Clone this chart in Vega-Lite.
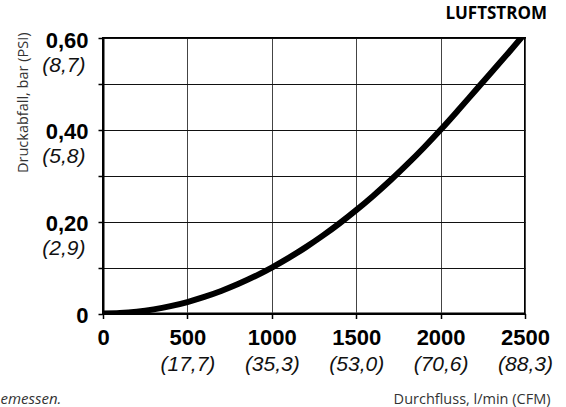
{
  "$schema": "https://vega.github.io/schema/vega-lite/v6.json",
  "width": 422,
  "height": 275.5,
  "autosize": {"type": "none"},
  "padding": {"left": 103, "top": 38, "right": 41, "bottom": 93.5},
  "background": "white",
  "title": {
    "text": "LUFTSTROM",
    "anchor": "end",
    "frame": "group",
    "font": "Open Sans",
    "fontSize": 17,
    "fontWeight": "bold",
    "color": "#000",
    "dx": 22,
    "offset": 6
  },
  "data": {
    "values": [
      {"flow": 0, "dp": 0},
      {"flow": 100, "dp": 0.001},
      {"flow": 200, "dp": 0.004},
      {"flow": 300, "dp": 0.009},
      {"flow": 400, "dp": 0.016},
      {"flow": 500, "dp": 0.025},
      {"flow": 600, "dp": 0.036},
      {"flow": 700, "dp": 0.049},
      {"flow": 800, "dp": 0.064},
      {"flow": 900, "dp": 0.081},
      {"flow": 1000, "dp": 0.1},
      {"flow": 1100, "dp": 0.121},
      {"flow": 1200, "dp": 0.144},
      {"flow": 1300, "dp": 0.169},
      {"flow": 1400, "dp": 0.196},
      {"flow": 1500, "dp": 0.225},
      {"flow": 1600, "dp": 0.256},
      {"flow": 1700, "dp": 0.289},
      {"flow": 1800, "dp": 0.324},
      {"flow": 1900, "dp": 0.361},
      {"flow": 2000, "dp": 0.4},
      {"flow": 2100, "dp": 0.441},
      {"flow": 2200, "dp": 0.483},
      {"flow": 2300, "dp": 0.525},
      {"flow": 2400, "dp": 0.567},
      {"flow": 2500, "dp": 0.61}
    ]
  },
  "layer": [
    {
      "mark": {"type": "line", "stroke": "#000", "strokeWidth": 6, "clip": true, "strokeCap": "butt", "interpolate": "monotone"},
      "encoding": {
        "x": {
          "field": "flow", "type": "quantitative",
          "scale": {"domain": [0, 2500], "nice": false, "zero": true},
          "axis": {
            "values": [0, 500, 1000, 1500, 2000, 2500],
            "labelExpr": "format(datum.value, 'd')",
            "labelFont": "Liberation Sans",
            "labelFontSize": 22,
            "labelFontWeight": "bold",
            "labelColor": "#000",
            "labelPadding": 9,
            "labelOverlap": false,
            "labelBound": false,
            "labelFlush": false,
            "tickSize": 5,
            "tickWidth": 1.5,
            "tickColor": "#000",
            "domainColor": "#000",
            "domainWidth": 2,
            "grid": true,
            "gridColor": "#444",
            "gridWidth": 1,
            "gridOpacity": 1,
            "title": "Durchfluss, l/min (CFM)",
            "titleFont": "Open Sans",
            "titleFontSize": 14.5,
            "titleFontWeight": "normal",
            "titleColor": "#333",
            "titleAnchor": "end",
            "titleAlign": "right",
            "titleBaseline": "alphabetic",
            "titleX": 447,
            "titleY": 89.5
          }
        },
        "y": {
          "field": "dp", "type": "quantitative",
          "scale": {"domain": [0, 0.6], "nice": false, "zero": true},
          "axis": {
            "values": [0, 0.1, 0.2, 0.3, 0.4, 0.5, 0.6],
            "labelExpr": "round(datum.value * 10) % 2 == 0 ? (datum.value == 0 ? '0' : replace(format(datum.value, '.2f'), '.', ',')) : ''",
            "labelFont": "Liberation Sans",
            "labelFontSize": 22,
            "labelFontWeight": "bold",
            "labelColor": "#000",
            "labelPadding": 10,
            "labelOffset": 2,
            "labelBaseline": "middle",
            "labelOverlap": false,
            "labelBound": false,
            "labelFlush": false,
            "tickSize": 5,
            "tickWidth": 1.5,
            "tickColor": "#000",
            "domainColor": "#000",
            "domainWidth": 2,
            "grid": true,
            "gridColor": "#111",
            "gridWidth": 1,
            "gridOpacity": 1,
            "title": "Druckabfall, bar (PSI)",
            "titleFont": "Open Sans",
            "titleFontSize": 14.5,
            "titleFontWeight": "normal",
            "titleColor": "#333",
            "titleAnchor": "end",
            "titleAngle": -90,
            "titleAlign": "right",
            "titleBaseline": "bottom",
            "titleX": -73,
            "titleY": -6
          }
        }
      }
    },
    {
      "mark": {"type": "line", "strokeOpacity": 0, "clip": true},
      "encoding": {
        "x": {
          "field": "flow", "type": "quantitative",
          "scale": {"domain": [0, 2500], "nice": false, "zero": true},
          "axis": {
            "orient": "bottom",
            "values": [500, 1000, 1500, 2000, 2500],
            "labelExpr": "datum.value == 500 ? '(17,7)' : datum.value == 1000 ? '(35,3)' : datum.value == 1500 ? '(53,0)' : datum.value == 2000 ? '(70,6)' : '(88,3)'",
            "labelFont": "Liberation Sans",
            "labelFontSize": 21,
            "labelFontStyle": "italic",
            "labelFontWeight": "normal",
            "labelColor": "#111",
            "labelPadding": 40,
            "labelOverlap": false,
            "labelBound": false,
            "labelFlush": false,
            "ticks": false,
            "tickSize": 0,
            "domain": false,
            "grid": false,
            "title": "emessen.",
            "titleFont": "Open Sans",
            "titleFontSize": 15,
            "titleFontStyle": "italic",
            "titleFontWeight": "normal",
            "titleColor": "#333",
            "titleAnchor": "start",
            "titleAlign": "left",
            "titleBaseline": "alphabetic",
            "titleX": -103,
            "titleY": 89.5
          }
        },
        "y": {
          "field": "dp", "type": "quantitative",
          "scale": {"domain": [0, 0.6], "nice": false, "zero": true},
          "axis": {
            "orient": "left",
            "values": [0.2, 0.4, 0.6],
            "labelExpr": "round(datum.value * 10) == 2 ? '(2,9)' : round(datum.value * 10) == 4 ? '(5,8)' : '(8,7)'",
            "labelFont": "Liberation Sans",
            "labelFontSize": 21,
            "labelFontStyle": "italic",
            "labelFontWeight": "normal",
            "labelColor": "#111",
            "labelPadding": 18,
            "labelOffset": 27,
            "labelBaseline": "middle",
            "labelOverlap": false,
            "labelBound": false,
            "labelFlush": false,
            "ticks": false,
            "tickSize": 0,
            "domain": false,
            "grid": false,
            "title": null
          }
        }
      }
    }
  ],
  "resolve": {"axis": {"x": "independent", "y": "independent"}},
  "config": {
    "view": {"stroke": "#000", "strokeWidth": 2}
  }
}
